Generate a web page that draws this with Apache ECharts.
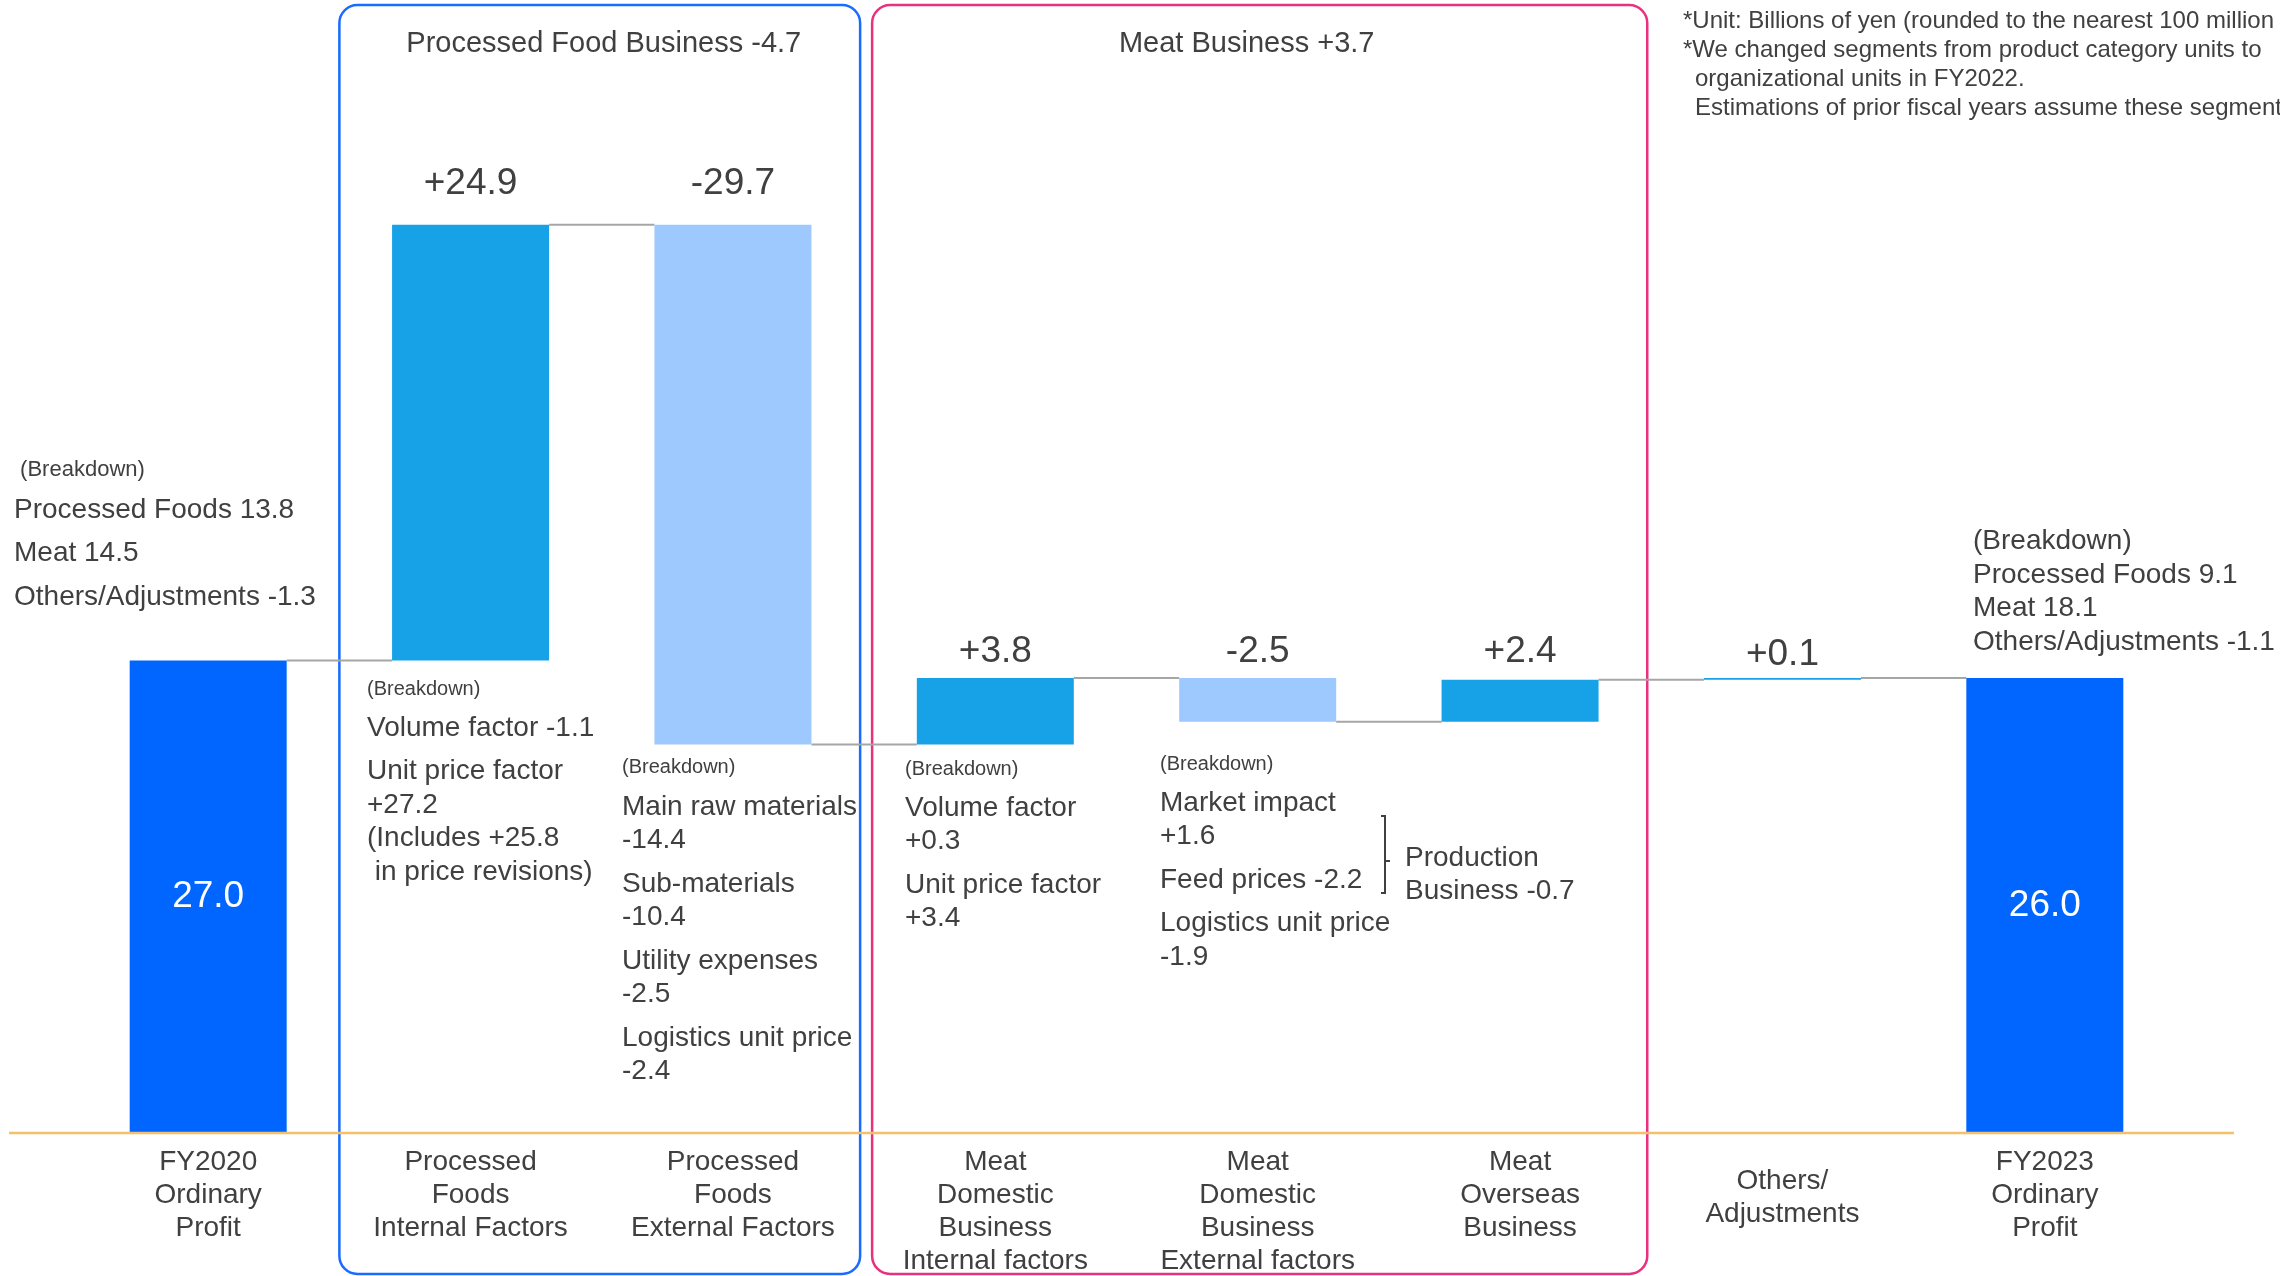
<!DOCTYPE html>
<html>
<head>
<meta charset="utf-8">
<script src="https://cdn.jsdelivr.net/npm/echarts@6/dist/echarts.min.js"></script>
<style>
  html, body { margin: 0; padding: 0; background: #ffffff; }
  #main { width: 2280px; height: 1276px; }
</style>
</head>
<body>
<div id="main"></div>
<script>
// ---- Ordinary profit bridge, FY2020 -> FY2023 (billions of yen) ----
const categories = [
  'FY2020\nOrdinary\nProfit',
  'Processed\nFoods\nInternal Factors',
  'Processed\nFoods\nExternal Factors',
  'Meat\nDomestic\nBusiness\nInternal factors',
  'Meat\nDomestic\nBusiness\nExternal factors',
  'Meat\nOverseas\nBusiness',
  'Others/\nAdjustments',
  'FY2023\nOrdinary\nProfit'
];
const startProfit = 27.0;
const changes = [24.9, -29.7, 3.8, -2.5, 2.4, 0.1];
const endProfit = 26.0;

const groupTitles = ['Processed Food Business -4.7', 'Meat Business +3.7'];

const breakdownFY2020 = [['Processed Foods 13.8'], ['Meat 14.5'], ['Others/Adjustments -1.3']];
const breakdownFY2023 = [['Processed Foods 9.1', 'Meat 18.1', 'Others/Adjustments -1.1']];
const breakdownPFInternal = [['Volume factor -1.1'], ['Unit price factor', '+27.2', '(Includes +25.8', ' in price revisions)']];
const breakdownPFExternal = [['Main raw materials', '-14.4'], ['Sub-materials', '-10.4'], ['Utility expenses', '-2.5'], ['Logistics unit price', '-2.4']];
const breakdownMeatInternal = [['Volume factor', '+0.3'], ['Unit price factor', '+3.4']];
const breakdownMeatExternal = [['Market impact', '+1.6'], ['Feed prices -2.2'], ['Logistics unit price', '-1.9']];
const productionNote = [['Production', 'Business -0.7']];

const notes = [
  '*Unit: Billions of yen (rounded to the nearest 100 million yen)',
  '*We changed segments from product category units to',
  'organizational units in FY2022.',
  'Estimations of prior fiscal years assume these segments.'
];

// ---- styling ----
const FONT = '"Liberation Sans", Arial, sans-serif';
const TEXT = '#404040';
const C_TOTAL = '#0066FF';
const C_UP = '#17A2E8';
const C_DOWN = '#9DC9FF';
const C_LINK = '#A6A6A6';
const BAR_W = 157;
// gap between each change bar top and its value label
const labelGap = [0, 22, 22, 8, 8, 9, 5, 0];

// ---- waterfall construction ----
const r1 = v => Math.round(v * 10) / 10;
const bases = [0], heights = [startProfit], levels = [startProfit];
let run = startProfit;
changes.forEach(c => {
  const next = r1(run + c);
  bases.push(Math.min(run, next));
  heights.push(Math.abs(c));
  run = next;
  levels.push(run);
});
bases.push(0);
heights.push(endProfit);

const last = categories.length - 1;
const deltaData = heights.map((h, i) => {
  if (i === 0 || i === last) {
    return {
      value: h,
      itemStyle: { color: C_TOTAL },
      label: { show: true, position: 'inside', color: '#ffffff', fontSize: 37, formatter: h.toFixed(1) }
    };
  }
  const c = changes[i - 1];
  return {
    value: h,
    itemStyle: { color: c >= 0 ? C_UP : C_DOWN },
    label: {
      show: true, position: 'top', distance: labelGap[i], color: TEXT, fontSize: 37,
      formatter: (c > 0 ? '+' : '') + c.toFixed(1)
    }
  };
});

// connector from bar i to bar i+1 at the running level after bar i
const linkData = levels.map((lv, i) => [i, lv]);

const chart = echarts.init(document.getElementById('main'), null, { renderer: 'canvas' });

chart.setOption({
  animation: false,
  backgroundColor: '#ffffff',
  textStyle: { fontFamily: FONT },
  grid: { left: 77, right: 104, top: 83, bottom: 143, containLabel: false, outerBoundsMode: 'none' },
  xAxis: {
    type: 'category',
    data: categories,
    axisLine: { show: false },
    axisTick: { show: false },
    splitLine: { show: false },
    axisLabel: {
      interval: 0,
      margin: 13,
      fontSize: 28,
      lineHeight: 33,
      color: TEXT,
      fontFamily: FONT,
      formatter: (v, i) => (i === 6 ? '{gap|}\n' + v : v),
      rich: { gap: { lineHeight: 19, fontSize: 1 } }
    }
  },
  yAxis: { type: 'value', min: 0, max: 60, show: false, splitLine: { show: false } },
  series: [
    {
      name: 'base', type: 'bar', stack: 'bridge', barWidth: BAR_W,
      itemStyle: { color: 'rgba(0,0,0,0)' }, silent: true,
      data: bases
    },
    {
      name: 'amount', type: 'bar', stack: 'bridge', barWidth: BAR_W,
      label: { fontFamily: FONT },
      data: deltaData
    },
    {
      name: 'link', type: 'custom', silent: true, z: 1,
      data: linkData.slice(0, last),
      renderItem: (params, api) => {
        const i = api.value(0), lv = api.value(1);
        const p1 = api.coord([i, lv]);
        const p2 = api.coord([i + 1, lv]);
        return {
          type: 'line',
          shape: { x1: p1[0] + BAR_W / 2, y1: p1[1], x2: p2[0] - BAR_W / 2, y2: p2[1] },
          style: { stroke: C_LINK, lineWidth: 2 }
        };
      }
    }
  ]
});

// ---- boxes, baseline and breakdown notes ----
const px = i => chart.convertToPixel({ xAxisIndex: 0 }, i);
const y0 = chart.convertToPixel({ yAxisIndex: 0 }, 0);
const mid = (a, b) => (px(a) + px(b)) / 2;

function text(x, y, s, size, align) {
  return {
    type: 'text', x: x, y: y, silent: true,
    style: { text: s, fontSize: size, fontFamily: FONT, fill: TEXT, align: align || 'left', verticalAlign: 'middle' }
  };
}

// a "(Breakdown)" heading followed by items; lines inside one item are tighter
function block(x, headY, headSize, head, firstY, items, out) {
  if (head) out.push(text(x, headY, head, headSize));
  let y = firstY;
  items.forEach(lines => {
    lines.forEach(l => { out.push(text(x, y, l, 28)); y += 33.5; });
    y += 10;
  });
}

const g = [];
const blueL = mid(0, 1), blueR = mid(2, 3) - 4;
const pinkL = mid(2, 3) + 8, pinkR = mid(5, 6) - 4;

g.push({
  type: 'rect', silent: true, z: 0,
  shape: { x: blueL, y: 5, width: blueR - blueL, height: 1269, r: 18 },
  style: { fill: 'none', stroke: '#1A6BFF', lineWidth: 2.5 }
});
g.push({
  type: 'rect', silent: true, z: 0,
  shape: { x: pinkL, y: 5, width: pinkR - pinkL, height: 1269, r: 18 },
  style: { fill: 'none', stroke: '#E8317F', lineWidth: 2.5 }
});
g.push(text((blueL + blueR) / 2 + 4, 44, groupTitles[0], 29, 'center'));
g.push(text((pinkL + pinkR) / 2 - 13, 44, groupTitles[1], 29, 'center'));

g.push({
  type: 'line', silent: true, z: 5,
  shape: { x1: 9, y1: y0, x2: 2234, y2: y0 },
  style: { stroke: '#F4C06A', lineWidth: 2.5 }
});

block(14, 470, 22, ' (Breakdown)', 510, breakdownFY2020, g);
block(367, 689, 20, '(Breakdown)', 728, breakdownPFInternal, g);
block(622, 767, 20, '(Breakdown)', 807, breakdownPFExternal, g);
block(905, 769, 20, '(Breakdown)', 808, breakdownMeatInternal, g);
block(1160, 764, 20, '(Breakdown)', 803, breakdownMeatExternal, g);
block(1405, 0, 0, null, 858, productionNote, g);
block(1973, 541, 28, '(Breakdown)', 575, breakdownFY2023, g);

// bracket grouping market impact and feed prices
g.push({
  type: 'polyline', silent: true,
  shape: { points: [[1381, 816], [1385, 816], [1385, 893], [1381, 893]] },
  style: { fill: 'none', stroke: TEXT, lineWidth: 2 }
});
g.push({
  type: 'line', silent: true,
  shape: { x1: 1385, y1: 861, x2: 1390, y2: 861 },
  style: { stroke: TEXT, lineWidth: 2 }
});

g.push(text(1683, 21, notes[0], 24));
g.push(text(1683, 50, notes[1], 24));
g.push(text(1695, 79, notes[2], 24));
g.push(text(1695, 108, notes[3], 24));

chart.setOption({ graphic: g });
</script>
</body>
</html>
